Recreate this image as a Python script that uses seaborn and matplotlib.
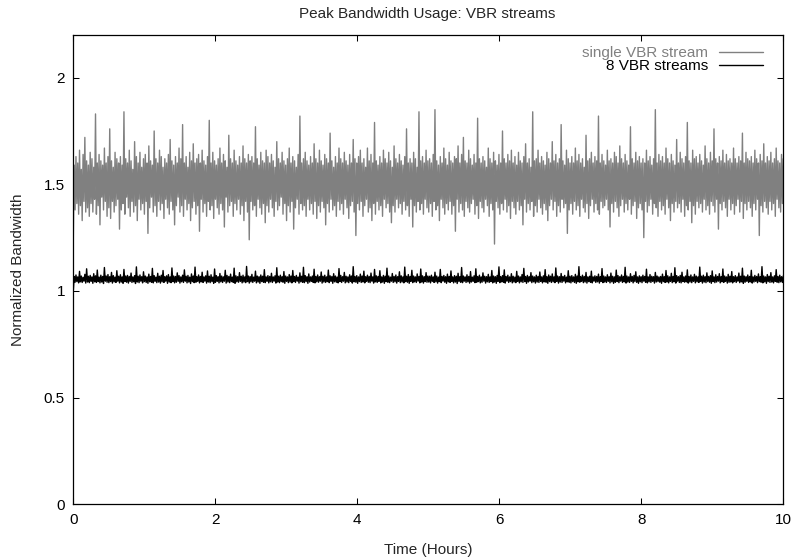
import numpy as np
import pandas as pd
import matplotlib
matplotlib.use("Agg")
import matplotlib.pyplot as plt
import seaborn as sns

# ---- data (normalized bandwidth samples, 0..10 h) ----
single_vbr = [
    1.25,1.59,1.38,1.63,1.41,1.60,1.36,1.66,1.40,1.57,1.33,1.64,1.42,1.72,1.37,1.61,1.39,1.59,1.35,1.65,
    1.41,1.62,1.37,1.58,1.43,1.83,1.36,1.60,1.40,1.64,1.31,1.61,1.44,1.59,1.38,1.67,1.42,1.60,1.35,1.63,
    1.39,1.76,1.34,1.61,1.42,1.58,1.37,1.65,1.40,1.62,1.43,1.60,1.29,1.63,1.38,1.59,1.41,1.84,1.36,1.62,
    1.44,1.60,1.39,1.66,1.35,1.61,1.42,1.57,1.37,1.70,1.40,1.63,1.33,1.60,1.43,1.65,1.38,1.58,1.41,1.62,
    1.36,1.64,1.42,1.60,1.27,1.68,1.39,1.61,1.44,1.59,1.37,1.75,1.40,1.62,1.35,1.60,1.42,1.66,1.38,1.63,
    1.41,1.58,1.34,1.62,1.43,1.60,1.39,1.64,1.36,1.71,1.42,1.61,1.38,1.59,1.31,1.63,1.40,1.60,1.44,1.67,
    1.37,1.62,1.40,1.78,1.35,1.60,1.43,1.63,1.38,1.58,1.41,1.65,1.33,1.61,1.39,1.69,1.42,1.60,1.36,1.62,
    1.40,1.64,1.28,1.60,1.43,1.66,1.37,1.61,1.41,1.59,1.35,1.63,1.42,1.80,1.38,1.60,1.40,1.65,1.34,1.61,
    1.43,1.59,1.39,1.62,1.36,1.67,1.41,1.60,1.38,1.64,1.30,1.61,1.44,1.58,1.37,1.73,1.40,1.62,1.42,1.60,
    1.35,1.66,1.41,1.61,1.38,1.59,1.43,1.63,1.36,1.60,1.40,1.68,1.33,1.62,1.42,1.60,1.37,1.64,1.24,1.61,
    1.42,1.63,1.38,1.60,1.40,1.77,1.35,1.62,1.43,1.59,1.39,1.65,1.36,1.61,1.41,1.60,1.32,1.66,1.40,1.63,
    1.37,1.60,1.43,1.64,1.39,1.61,1.35,1.58,1.42,1.70,1.38,1.62,1.40,1.60,1.44,1.65,1.36,1.61,1.41,1.59,
    1.33,1.62,1.40,1.67,1.37,1.60,1.42,1.63,1.29,1.61,1.39,1.58,1.43,1.64,1.36,1.82,1.41,1.60,1.38,1.62,
    1.40,1.65,1.35,1.61,1.43,1.59,1.38,1.63,1.41,1.60,1.36,1.69,1.42,1.62,1.34,1.60,1.40,1.66,1.37,1.61,
    1.42,1.59,1.39,1.64,1.31,1.62,1.41,1.60,1.37,1.74,1.43,1.61,1.38,1.58,1.40,1.63,1.35,1.60,1.42,1.67,
    1.38,1.62,1.41,1.60,1.36,1.65,1.43,1.61,1.39,1.59,1.34,1.64,1.40,1.60,1.42,1.71,1.37,1.62,1.26,1.60,
    1.41,1.63,1.38,1.66,1.42,1.60,1.35,1.62,1.40,1.58,1.43,1.67,1.37,1.61,1.39,1.64,1.33,1.60,1.41,1.79,
    1.36,1.61,1.42,1.59,1.38,1.63,1.40,1.60,1.35,1.66,1.43,1.62,1.39,1.60,1.41,1.65,1.37,1.61,1.32,1.58,
    1.40,1.68,1.37,1.62,1.43,1.60,1.39,1.64,1.41,1.61,1.36,1.59,1.42,1.63,1.38,1.76,1.40,1.60,1.35,1.62,
    1.43,1.60,1.30,1.65,1.40,1.62,1.37,1.58,1.42,1.84,1.38,1.61,1.41,1.63,1.36,1.60,1.43,1.66,1.39,1.61,
    1.37,1.62,1.41,1.60,1.35,1.64,1.42,1.85,1.38,1.61,1.40,1.59,1.33,1.63,1.43,1.60,1.39,1.67,1.36,1.62,
    1.41,1.59,1.38,1.65,1.42,1.61,1.36,1.60,1.40,1.63,1.28,1.62,1.43,1.68,1.37,1.60,1.41,1.64,1.38,1.72,
    1.35,1.61,1.42,1.60,1.39,1.66,1.37,1.62,1.41,1.59,1.43,1.64,1.36,1.60,1.40,1.81,1.34,1.62,1.42,1.60,
    1.39,1.63,1.37,1.61,1.43,1.58,1.40,1.67,1.35,1.62,1.41,1.60,1.38,1.65,1.22,1.61,1.42,1.59,1.39,1.64,
    1.36,1.60,1.41,1.75,1.38,1.62,1.43,1.60,1.37,1.64,1.40,1.61,1.34,1.66,1.42,1.60,1.39,1.63,1.36,1.59,
    1.42,1.65,1.38,1.61,1.40,1.60,1.31,1.63,1.43,1.69,1.37,1.60,1.41,1.62,1.38,1.58,1.42,1.84,1.35,1.61,
    1.40,1.62,1.37,1.66,1.43,1.60,1.39,1.63,1.36,1.61,1.41,1.59,1.38,1.65,1.33,1.62,1.40,1.60,1.43,1.70,
    1.38,1.61,1.42,1.64,1.35,1.60,1.40,1.62,1.37,1.78,1.43,1.61,1.39,1.59,1.41,1.66,1.27,1.62,1.38,1.60,
    1.41,1.63,1.36,1.60,1.42,1.67,1.38,1.61,1.40,1.64,1.35,1.60,1.43,1.62,1.39,1.58,1.37,1.73,1.41,1.61,
    1.34,1.62,1.40,1.65,1.43,1.60,1.37,1.63,1.41,1.61,1.38,1.82,1.36,1.60,1.42,1.64,1.39,1.61,1.40,1.59,
    1.43,1.66,1.38,1.61,1.30,1.62,1.41,1.60,1.37,1.65,1.42,1.63,1.39,1.60,1.35,1.68,1.40,1.62,1.43,1.60,
    1.37,1.64,1.41,1.61,1.38,1.59,1.43,1.77,1.36,1.62,1.40,1.60,1.42,1.65,1.34,1.61,1.39,1.63,1.41,1.60,
    1.38,1.62,1.25,1.60,1.42,1.66,1.37,1.61,1.40,1.63,1.43,1.59,1.36,1.62,1.41,1.85,1.39,1.60,1.35,1.64,
    1.42,1.61,1.38,1.63,1.40,1.60,1.36,1.67,1.43,1.62,1.39,1.60,1.33,1.64,1.41,1.61,1.37,1.59,1.42,1.71,
    1.39,1.60,1.41,1.65,1.37,1.62,1.43,1.60,1.35,1.63,1.40,1.79,1.38,1.61,1.42,1.60,1.32,1.66,1.40,1.62,
    1.36,1.63,1.42,1.60,1.39,1.64,1.41,1.61,1.37,1.59,1.43,1.68,1.38,1.62,1.40,1.60,1.36,1.65,1.42,1.61,
    1.40,1.76,1.37,1.62,1.43,1.60,1.29,1.63,1.41,1.61,1.38,1.66,1.42,1.60,1.39,1.64,1.35,1.61,1.43,1.62,
    1.38,1.60,1.41,1.67,1.36,1.62,1.40,1.60,1.43,1.63,1.37,1.61,1.42,1.74,1.34,1.60,1.41,1.65,1.38,1.62,
    1.42,1.61,1.39,1.63,1.35,1.60,1.41,1.66,1.38,1.62,1.43,1.60,1.26,1.64,1.40,1.61,1.37,1.69,1.42,1.60,
    1.39,1.63,1.36,1.61,1.42,1.65,1.38,1.60,1.41,1.62,1.35,1.67,1.43,1.61,1.39,1.60,1.37,1.64,1.41,1.62,
]

eight_vbr = [
    1.000,1.068,1.041,1.075,1.044,1.066,1.038,1.092,1.043,1.070,1.040,1.064,1.046,1.078,1.037,1.104,1.042,1.069,1.039,1.073,
    1.045,1.066,1.036,1.081,1.043,1.071,1.040,1.098,1.044,1.065,1.038,1.074,1.042,1.068,1.035,1.110,1.046,1.070,1.041,1.077,
    1.039,1.067,1.044,1.087,1.037,1.072,1.043,1.065,1.040,1.095,1.046,1.069,1.038,1.076,1.042,1.066,1.036,1.101,1.044,1.070,
    1.041,1.073,1.037,1.068,1.045,1.084,1.040,1.066,1.043,1.072,1.035,1.113,1.042,1.069,1.039,1.075,1.046,1.067,1.038,1.090,
    1.044,1.070,1.040,1.066,1.036,1.079,1.043,1.068,1.041,1.106,1.038,1.072,1.045,1.065,1.039,1.083,1.042,1.069,1.037,1.074,
    1.043,1.096,1.040,1.067,1.046,1.071,1.036,1.077,1.042,1.066,1.039,1.108,1.044,1.070,1.038,1.068,1.041,1.085,1.045,1.072,
    1.037,1.066,1.043,1.074,1.040,1.099,1.046,1.069,1.038,1.073,1.042,1.065,1.035,1.080,1.044,1.070,1.039,1.112,1.041,1.067,
    1.045,1.075,1.038,1.068,1.043,1.088,1.040,1.066,1.046,1.071,1.037,1.094,1.042,1.069,1.039,1.076,1.044,1.065,1.036,1.103,
    1.041,1.072,1.045,1.067,1.038,1.082,1.043,1.070,1.040,1.066,1.046,1.097,1.037,1.073,1.042,1.068,1.039,1.079,1.044,1.065,
    1.040,1.107,1.036,1.071,1.043,1.067,1.041,1.086,1.045,1.069,1.038,1.074,1.042,1.066,1.039,1.115,1.044,1.070,1.037,1.068,
    1.043,1.078,1.040,1.065,1.046,1.093,1.038,1.070,1.042,1.067,1.036,1.075,1.044,1.069,1.041,1.100,1.039,1.066,1.045,1.072,
    1.038,1.068,1.043,1.083,1.040,1.066,1.046,1.071,1.037,1.109,1.042,1.069,1.039,1.074,1.044,1.067,1.041,1.091,1.036,1.070,
    1.045,1.066,1.039,1.077,1.042,1.070,1.038,1.096,1.044,1.068,1.040,1.073,1.046,1.065,1.037,1.085,1.043,1.069,1.041,1.111,
    1.039,1.072,1.044,1.067,1.036,1.080,1.042,1.066,1.045,1.070,1.040,1.102,1.038,1.068,1.043,1.075,1.041,1.067,1.046,1.089,
    1.037,1.069,1.042,1.074,1.040,1.066,1.044,1.098,1.039,1.071,1.045,1.068,1.036,1.081,1.043,1.070,1.041,1.065,1.038,1.105,
    1.044,1.073,1.040,1.067,1.046,1.087,1.038,1.069,1.042,1.066,1.039,1.076,1.045,1.070,1.037,1.114,1.043,1.068,1.041,1.072,
    1.036,1.066,1.044,1.079,1.040,1.070,1.042,1.093,1.038,1.067,1.045,1.074,1.041,1.068,1.039,1.084,1.046,1.066,1.037,1.101,
    1.043,1.071,1.040,1.068,1.045,1.095,1.038,1.066,1.042,1.073,1.036,1.069,1.044,1.107,1.041,1.070,1.039,1.065,1.046,1.082,
    1.040,1.068,1.043,1.075,1.037,1.067,1.045,1.090,1.039,1.071,1.042,1.066,1.038,1.112,1.044,1.069,1.041,1.077,1.036,1.068,
    1.045,1.097,1.039,1.070,1.043,1.066,1.040,1.080,1.046,1.068,1.038,1.103,1.042,1.071,1.037,1.067,1.044,1.086,1.041,1.070,
    1.042,1.069,1.038,1.074,1.045,1.066,1.040,1.088,1.043,1.070,1.037,1.065,1.044,1.101,1.039,1.068,1.046,1.073,1.041,1.067,
    1.036,1.079,1.043,1.068,1.040,1.094,1.045,1.066,1.038,1.072,1.042,1.069,1.035,1.083,1.044,1.067,1.041,1.110,1.039,1.070,
    1.046,1.066,1.040,1.076,1.043,1.068,1.037,1.091,1.042,1.065,1.045,1.071,1.039,1.104,1.041,1.068,1.044,1.074,1.038,1.066,
    1.041,1.085,1.046,1.069,1.037,1.067,1.043,1.078,1.040,1.066,1.044,1.096,1.038,1.070,1.042,1.067,1.036,1.073,1.045,1.113,
    1.039,1.067,1.043,1.072,1.041,1.099,1.037,1.068,1.046,1.074,1.040,1.066,1.044,1.081,1.038,1.069,1.042,1.065,1.039,1.092,
    1.045,1.070,1.038,1.066,1.043,1.077,1.040,1.106,1.044,1.068,1.036,1.073,1.042,1.067,1.046,1.086,1.039,1.070,1.043,1.066,
    1.037,1.074,1.042,1.068,1.040,1.089,1.045,1.066,1.038,1.071,1.043,1.100,1.041,1.067,1.036,1.075,1.044,1.069,1.040,1.080,
    1.043,1.066,1.039,1.108,1.045,1.070,1.037,1.067,1.042,1.082,1.040,1.068,1.046,1.073,1.038,1.065,1.043,1.095,1.041,1.069,
    1.038,1.072,1.044,1.066,1.040,1.078,1.036,1.070,1.043,1.114,1.041,1.067,1.045,1.074,1.039,1.068,1.042,1.087,1.037,1.066,
    1.044,1.069,1.041,1.093,1.038,1.066,1.046,1.071,1.040,1.068,1.043,1.079,1.037,1.067,1.045,1.105,1.039,1.070,1.042,1.066,
    1.040,1.076,1.045,1.067,1.038,1.084,1.043,1.069,1.036,1.066,1.041,1.098,1.044,1.072,1.039,1.067,1.046,1.075,1.040,1.068,
    1.043,1.111,1.037,1.070,1.042,1.066,1.040,1.081,1.045,1.068,1.038,1.073,1.044,1.090,1.041,1.066,1.036,1.071,1.043,1.067,
    1.039,1.074,1.046,1.068,1.041,1.102,1.038,1.066,1.043,1.077,1.040,1.069,1.045,1.067,1.037,1.087,1.042,1.070,1.044,1.066,
    1.041,1.068,1.036,1.079,1.044,1.067,1.040,1.096,1.042,1.071,1.038,1.066,1.045,1.083,1.039,1.068,1.043,1.109,1.037,1.072,
    1.046,1.067,1.040,1.073,1.038,1.088,1.044,1.066,1.041,1.070,1.043,1.099,1.037,1.068,1.042,1.075,1.039,1.066,1.045,1.078,
    1.038,1.070,1.043,1.066,1.040,1.112,1.045,1.069,1.037,1.074,1.042,1.067,1.039,1.085,1.044,1.068,1.041,1.072,1.036,1.094,
    1.044,1.066,1.039,1.076,1.042,1.068,1.046,1.081,1.038,1.067,1.043,1.103,1.040,1.070,1.045,1.066,1.037,1.078,1.041,1.069,
    1.042,1.091,1.038,1.067,1.044,1.072,1.040,1.066,1.046,1.084,1.039,1.069,1.043,1.107,1.036,1.070,1.041,1.067,1.045,1.075,
    1.040,1.068,1.043,1.097,1.037,1.066,1.042,1.073,1.045,1.068,1.039,1.080,1.044,1.067,1.041,1.114,1.038,1.070,1.043,1.066,
    1.036,1.077,1.044,1.069,1.040,1.086,1.042,1.066,1.038,1.071,1.045,1.100,1.041,1.068,1.039,1.074,1.043,1.067,1.040,1.071,
]

series_labels = ["single VBR stream", "8 VBR streams"]
x_ticks = [0, 2, 4, 6, 8, 10]
y_ticks = [0, 0.5, 1, 1.5, 2]
y_tick_labels = ["0", "0.5", "1", "1.5", "2"]

# sample times: evenly spaced over the 10-hour trace
t_single = np.linspace(0, 10, len(single_vbr))
t_eight = np.linspace(0, 10, len(eight_vbr))

df = pd.concat([
    pd.DataFrame({"hours": t_single, "bw": single_vbr, "series": series_labels[0]}),
    pd.DataFrame({"hours": t_eight, "bw": eight_vbr, "series": series_labels[1]}),
], ignore_index=True)

# ---- style ----
sns.set_style("ticks")
plt.rcParams["font.family"] = ["Liberation Sans", "DejaVu Sans"]
plt.rcParams["font.size"] = 11

W, H = 791, 557
fig = plt.figure(figsize=(W / 100, H / 100), dpi=100)
L, R, B, T = 73.3, 783.3, 504.3, 35.0
ax = fig.add_axes([L / W, 1 - B / H, (R - L) / W, (B - T) / H])

palette = {series_labels[0]: "#808080", series_labels[1]: "#000000"}
for name in series_labels:
    sub = df[df["series"] == name]
    sns.lineplot(data=sub, x="hours", y="bw", ax=ax, color=palette[name],
                 lw=1.0, label=name, estimator=None, sort=False)

ax.set_xlim(0, 10)
ax.set_ylim(0, 2.2)
ax.set_xticks(x_ticks)
ax.set_yticks(y_ticks)
ax.set_yticklabels(y_tick_labels)

for s in ax.spines.values():
    s.set_visible(True)
    s.set_color("black")
    s.set_linewidth(0.9)

ax.tick_params(axis="both", which="major", direction="in", length=4.5, width=0.75,
               top=True, right=True, labelsize=11, colors="black")
ax.tick_params(axis="x", pad=6.5)
ax.tick_params(axis="y", pad=6)

ax.set_xlabel("Time (Hours)", fontsize=11)
ax.xaxis.label.set_va("baseline")
ax.xaxis.set_label_coords(0.5, (B - 554) / (B - T))
ax.set_ylabel("Normalized Bandwidth", fontsize=11)
ax.yaxis.label.set_va("center")
ax.yaxis.set_label_coords((18 - L) / (R - L), 0.5)

fig.text(427 / W, 1 - 18 / H, "Peak Bandwidth Usage: VBR streams",
         ha="center", va="baseline", fontsize=11)

leg = ax.legend(loc="upper right", bbox_to_anchor=((763 - L) / (R - L), (B - 46) / (B - T)),
                frameon=False, markerfirst=False, handlelength=2.9, handletextpad=0.7,
                labelspacing=-0.05, borderpad=0, borderaxespad=0, fontsize=11,
                labelcolor="linecolor")

fig.savefig("out.png", dpi=100)
